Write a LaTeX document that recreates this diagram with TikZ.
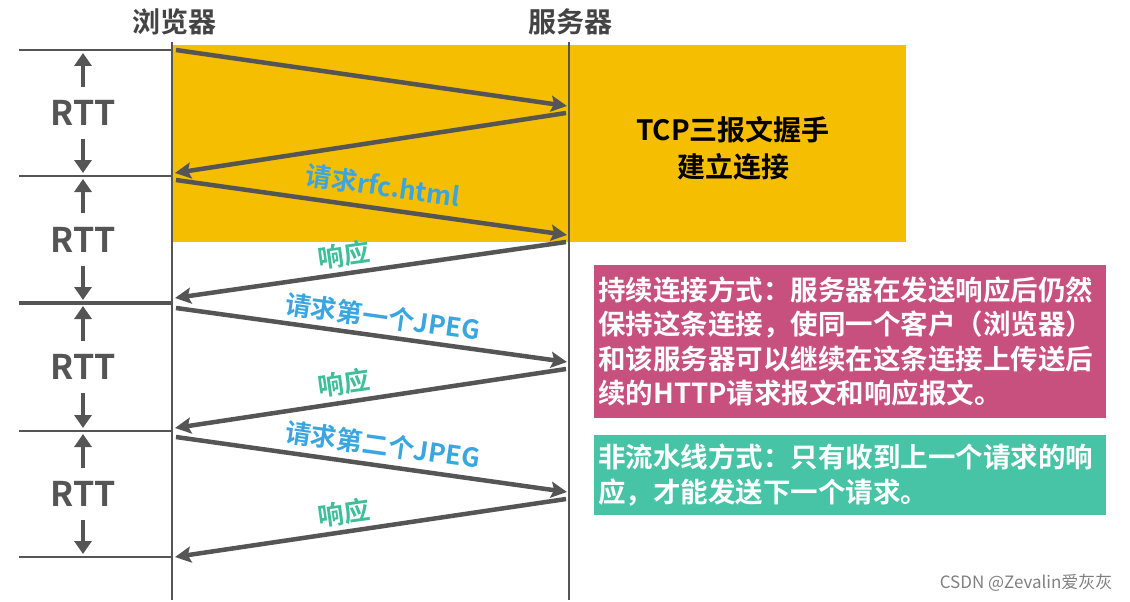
\documentclass[tikz,border=0pt]{standalone}
\usepackage{fontspec}
\setmainfont{Noto Sans CJK SC}[BoldFont={Noto Sans CJK SC Bold}]
\usetikzlibrary{arrows.meta,positioning}
\definecolor{tcpgold}{RGB}{245,190,0}
\definecolor{linegray}{RGB}{85,85,85}
\definecolor{headgray}{RGB}{68,68,68}
\definecolor{reqblue}{RGB}{58,166,224}
\definecolor{respgreen}{RGB}{62,190,154}
\definecolor{keeppink}{RGB}{200,80,126}
\definecolor{seqgreen}{RGB}{71,196,166}

\begin{document}
\begin{tikzpicture}[x=1pt,y=-1pt,
  font=\bfseries,
  life/.style={line width=2pt,linegray},
  tick/.style={line width=2.5pt,linegray},
  msg/.style={-{Stealth[length=16pt,width=16pt,inset=3pt]},line width=4.5pt,linegray},
  rttarr/.style={-{Triangle[length=13pt,width=17pt]},line width=4pt,linegray,shorten >=3pt},
  rttlab/.style={inner sep=0pt,minimum height=52pt,text=linegray,font=\bfseries\fontsize{34}{34}\selectfont},
  host/.style={text=headgray,font=\bfseries\fontsize{28}{28}\selectfont},
  req/.style={text=reqblue,rotate=-8,font=\bfseries\fontsize{26}{26}\selectfont},
  resp/.style={text=respgreen,rotate=8,font=\bfseries\fontsize{26}{26}\selectfont},
  notebox/.style={anchor=north west,minimum width=512pt,inner xsep=4pt,text width=504pt,
                  align=left,text=white,font=\bfseries\fontsize{27.5}{34.5}\selectfont}]
\useasboundingbox (0,0) rectangle (1130,602);
% handshake area
\fill[tcpgold] (172,45) rectangle (906,242);
\node[align=center,font=\bfseries\fontsize{28}{37}\selectfont] (tcp) at (733,148) {TCP三报文握手\\建立连接};
% hosts and life lines
\node[host] (browser) at (174,22) {浏览器};
\node[host] (server) at (570,22) {服务器};
\coordinate (bt) at (172,42); \coordinate (bb) at (172,600);
\coordinate (st) at (569,42); \coordinate (sb) at (569,600);
\draw[life] (bt) -- (bb);
\draw[life] (st) -- (sb);
% RTT marks
\foreach \y in {50,176,557,431}{\draw[tick] (19,\y) -- (172,\y);}
\draw[line width=4.5pt,linegray] (19,303) -- (172,303);
\foreach \i/\ya/\yb in {1/50/176,2/176/303,3/303/431,4/431/557}{
  \coordinate (up\i) at (83,\ya);
  \coordinate (dn\i) at (83,\yb);
  \node[rttlab] (rtt\i) at (83,{(\ya+\yb)/2}) {RTT};
  \draw[rttarr] (rtt\i) -- (up\i);
  \draw[rttarr] (rtt\i) -- (dn\i);
}
% requests
\foreach \i/\ya/\yb in {1/50/106,3/180/235,5/308/362,7/437/492}{
  \coordinate (b\i) at (176,\ya);
  \coordinate (s\i) at (567,\yb);
  \draw[msg] (b\i) -- (s\i);
}
% responses
\foreach \i/\ya/\yb in {2/113/173,4/242/298,6/369/428,8/499/557}{
  \coordinate (s\i) at (566,\ya);
  \coordinate (b\i) at (175,\yb);
  \draw[msg] (s\i) -- (b\i);
}
\node[req] (rfc) at (383,186) {请求rfc.html};
\node[resp] (resp1) at (344,255) {响应};
\node[req] (jpeg1) at (383,317) {请求第一个JPEG};
\node[resp] (resp2) at (344,383) {响应};
\node[req] (jpeg2) at (383,445) {请求第二个JPEG};
\node[resp] (resp3) at (344,513) {响应};
% notes
\node[notebox,fill=keeppink,minimum height=153pt] (keep) at (594,265)
  {持续连接方式：服务器在发送响应后仍然\\保持这条连接，使同一个客户（浏览器）\\和该服务器可以继续在这条连接上传送后\\续的HTTP请求报文和响应报文。};
\node[notebox,fill=seqgreen,minimum height=80pt] (nopipe) at (594,435)
  {非流水线方式：只有收到上一个请求的响\\应，才能发送下一个请求。};
\node[anchor=east,text=gray,font=\mdseries\fontsize{17}{17}\selectfont] (mark) at (1116,583) {CSDN @Zevalin爱灰灰};
\end{tikzpicture}
\end{document}
